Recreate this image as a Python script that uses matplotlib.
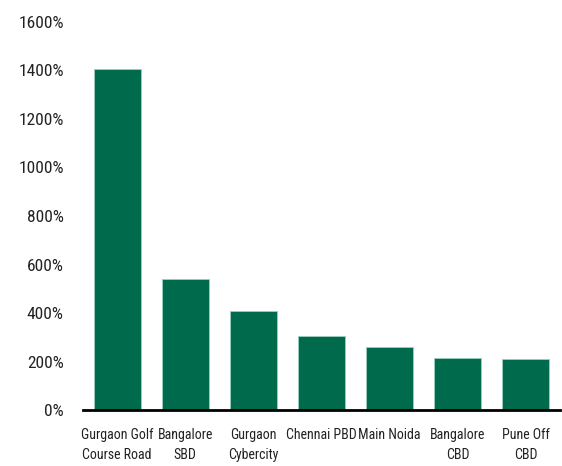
import matplotlib.pyplot as plt
from matplotlib import font_manager
from matplotlib.ticker import FuncFormatter

markets = ['Gurgaon Golf\nCourse Road', 'Bangalore\nSBD', 'Gurgaon\nCybercity',
           'Chennai PBD', 'Main Noida', 'Bangalore\nCBD', 'Pune Off\nCBD']
growth = [1406, 540, 408, 305, 260, 214, 212]

# pick a narrow face if one is installed
names = {f.name for f in font_manager.fontManager.ttflist}
narrow = [n for n in ['Liberation Sans Narrow', 'Roboto Condensed', 'Open Sans Condensed',
                      'DejaVu Sans Condensed', 'Noto Sans Condensed'] if n in names]
plt.rcParams['font.family'] = narrow[:1] + ['DejaVu Sans']
plt.rcParams['font.stretch'] = 'condensed'

fig = plt.figure(figsize=(5.62, 4.66), dpi=100)
ax = fig.add_axes([0.148, 0.12, 0.848, 0.833])

ax.bar(range(len(markets)), growth, width=0.69, color='#006A4D',
       edgecolor='#9fd0c0', linewidth=0.6)

ax.set_xlim(-0.5, len(markets) - 0.5)
ax.set_ylim(0, 1600)
ax.set_yticks(range(0, 1601, 200))
ax.yaxis.set_major_formatter(FuncFormatter(lambda v, p: f'{v:.0f}%'))
ax.set_xticks(range(len(markets)))
ax.set_xticklabels(markets, linespacing=1.55)

for s in ['top', 'right', 'left']:
    ax.spines[s].set_visible(False)
ax.spines['bottom'].set_linewidth(2)
ax.tick_params(axis='both', length=0, labelsize=12.5, colors='#222222')
ax.tick_params(axis='y', pad=14)
ax.tick_params(axis='x', pad=13, labelsize=10)

fig.savefig('out.png')
